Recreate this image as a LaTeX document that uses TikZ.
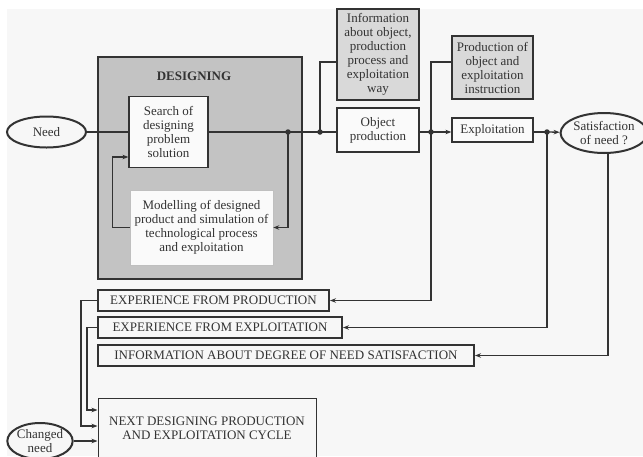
\documentclass[tikz,border=0pt]{standalone}
\usepackage{fontspec}
\setmainfont{Liberation Serif}
\usetikzlibrary{arrows.meta,shapes.geometric}

\definecolor{paper}{HTML}{F7F7F7}
\definecolor{ink}{HTML}{333333}
\definecolor{designfill}{HTML}{C3C3C3}
\definecolor{infofill}{HTML}{D9D9D9}
\definecolor{boxfill}{HTML}{FAFAFA}

\tikzset{
  txt/.style={font=\fontsize{13}{14}\selectfont, text=ink, align=center},
  plainbox/.style={txt, draw=ink, line width=1.2pt, fill=boxfill, inner sep=0pt, rectangle},
  infobox/.style={txt, draw=ink, line width=1.2pt, fill=infofill, inner sep=0pt, rectangle},
  capsbox/.style={txt, draw=ink, line width=2pt, fill=paper, inner sep=0pt, rectangle},
  oval/.style={txt, draw=ink, line width=2pt, fill=paper, ellipse, inner sep=0pt},
  link/.style={draw=ink, line width=1.3pt},
  arr/.style={link, -{Stealth[length=6pt,width=4.5pt]}},
  junction/.style={circle, fill=ink, inner sep=0pt, minimum size=5.5pt},
}

\begin{document}
\begin{tikzpicture}[x=1pt,y=-1pt]
  \useasboundingbox (0,0) rectangle (643,456);
  \fill[white] (0,0) rectangle (643,456);
  \fill[paper] (7,9) rectangle (643,456);

  % designing block
  \node[draw=ink, line width=2.5pt, fill=designfill, minimum width=204pt, minimum height=222pt, inner sep=0pt] (design) at (200,168) {};
  \node[txt, font=\fontsize{13}{14}\selectfont\bfseries] (title) at (194,76) {DESIGNING};
  \node[plainbox, minimum width=79pt, minimum height=71pt] (search) at (168.5,132) {Search of\\designing\\problem\\solution};
  \node[txt, draw=black!25, line width=0.6pt, fill=boxfill, inner sep=0pt, minimum width=143pt, minimum height=75pt] (model) at (201.5,227.5) {Modelling of designed\\product and simulation of\\technological process\\and exploitation};

  % main chain
  \node[oval, minimum width=79pt, minimum height=31pt] (need) at (46.5,132) {Need};
  \coordinate (d1) at (288,132);
  \coordinate (d2) at (320,132);
  \node[infobox, minimum width=82pt, minimum height=91pt] (info) at (378,54.5) {Information\\about object,\\production\\process and\\exploitation\\way};
  \node[plainbox, minimum width=82pt, minimum height=44pt] (objprod) at (378,130) {Object\\production};
  \coordinate (d3) at (431,132);
  \node[infobox, minimum width=81pt, minimum height=63pt] (prodinst) at (492.5,67.5) {Production of\\object and\\exploitation\\instruction};
  \node[plainbox, minimum width=81pt, minimum height=24pt] (exploit) at (492.5,130) {Exploitation};
  \coordinate (d4) at (547,132);
  \node[oval, minimum width=76pt, minimum height=40pt] (satis) at (604,133) {Satisfaction\\of need ?};

  % feedback boxes
  \node[capsbox, minimum width=231pt, minimum height=21pt] (expprod) at (213.5,300.5) {EXPERIENCE FROM PRODUCTION};
  \node[capsbox, minimum width=244pt, minimum height=21pt] (expexpl) at (220,327.5) {EXPERIENCE FROM EXPLOITATION};
  \node[capsbox, minimum width=376pt, minimum height=21pt] (infodeg) at (286,355.5) {INFORMATION ABOUT DEGREE OF NEED SATISFACTION};
  \node[txt, draw=ink, line width=1pt, fill=paper, inner sep=0pt, minimum width=218pt, minimum height=60pt] (next) at (207,428) {NEXT DESIGNING PRODUCTION\\AND EXPLOITATION CYCLE};
  \node[oval, minimum width=64pt, minimum height=36pt] (changed) at (40,441) {Changed\\need};

  % main line
  \draw[link] (need) -- (search);
  \draw[link] (search) -- (d1) -- (d2) -- (d2 -| objprod.west);
  \draw[link] (objprod.east |- d3) -- (d3);
  \draw[arr] (d3) -- (d3 -| exploit.west);
  \draw[link] (d4 -| exploit.east) -- (d4);
  \draw[arr] (d4) -- (satis);

  % loop inside designing
  \draw[arr] (d1) |- (model.east);
  \draw[arr] (model.west) -- ++(-17,0) |- ([yshift=-25pt]search.west);

  % branches to the information boxes
  \draw[link] (d2) |- ([yshift=-7.5pt]info.west);
  \draw[link] (d3) |- ([yshift=5.5pt]prodinst.west);

  % feedback returns
  \draw[arr] (d3) |- (expprod.east);
  \draw[arr] (d4) |- (expexpl.east);
  \draw[arr] ([xshift=4pt]satis.south) |- (infodeg.east);

  % into the next cycle
  \draw[arr] (expprod.west) -- ++(-16,0) |- ([yshift=2pt]next.west);
  \draw[arr] (expexpl.west) -- ++(-10,0) |- ([yshift=18pt]next.west);
  \draw[arr] (changed.east) -- (changed.east -| next.west);

  % junction dots
  \foreach \d in {d1,d2,d3,d4}
    \node[junction] at (\d) {};
\end{tikzpicture}
\end{document}
